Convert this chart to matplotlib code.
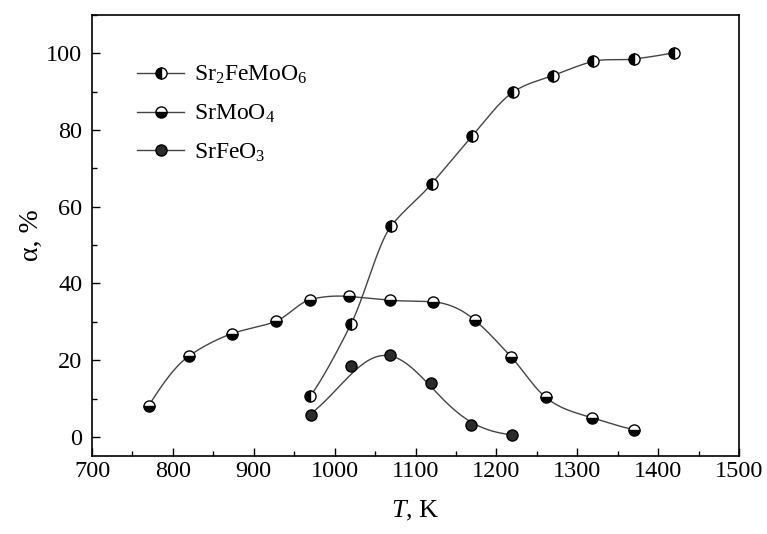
import numpy as np
import matplotlib
matplotlib.use('Agg')
import matplotlib.pyplot as plt
from matplotlib.ticker import MultipleLocator

plt.rcParams['font.family'] = ['Liberation Serif', 'DejaVu Serif']
plt.rcParams['mathtext.fontset'] = 'custom'
plt.rcParams['mathtext.rm'] = 'Liberation Serif'
plt.rcParams['mathtext.it'] = 'Liberation Serif:italic'

# data
t_sfmo = [970, 1020, 1070, 1120, 1170, 1220, 1270, 1320, 1370, 1420]
a_sfmo = [10.6, 29.3, 55.0, 66.0, 78.4, 89.8, 94.2, 97.9, 98.5, 100.2]

t_smo = [770, 820, 873, 927, 970, 1018, 1069, 1121, 1173, 1218, 1261, 1318, 1370]
a_smo = [8.1, 21.1, 26.9, 30.1, 35.8, 36.6, 35.6, 35.2, 30.5, 20.9, 10.3, 5.0, 1.9]

t_sfo = [971, 1020, 1069, 1119, 1168, 1219]
a_sfo = [5.6, 18.4, 21.3, 14.1, 3.1, 0.6]

labels = ['Sr$_2$FeMoO$_6$', 'SrMoO$_4$', 'SrFeO$_3$']


def akima(x, y, n=400):
    # Akima spline: smooth, but without the overshoot of a natural spline
    x = np.asarray(x, float)
    y = np.asarray(y, float)
    k = len(x)
    h = np.diff(x)
    d = np.diff(y) / h
    dd = np.empty(k + 3)
    dd[2:-2] = d
    dd[1] = 2 * dd[2] - dd[3]
    dd[0] = 2 * dd[1] - dd[2]
    dd[-2] = 2 * dd[-3] - dd[-4]
    dd[-1] = 2 * dd[-2] - dd[-3]
    m = np.empty(k)
    for i in range(k):
        w1 = abs(dd[i + 3] - dd[i + 2])
        w2 = abs(dd[i + 1] - dd[i])
        if w1 + w2 < 1e-12:
            m[i] = 0.5 * (dd[i + 1] + dd[i + 2])
        else:
            m[i] = (w1 * dd[i + 1] + w2 * dd[i + 2]) / (w1 + w2)
    xs = np.linspace(x[0], x[-1], n)
    idx = np.clip(np.searchsorted(x, xs) - 1, 0, k - 2)
    t = (xs - x[idx]) / h[idx]
    h00 = 2 * t**3 - 3 * t**2 + 1
    h10 = t**3 - 2 * t**2 + t
    h01 = -2 * t**3 + 3 * t**2
    h11 = t**3 - t**2
    ys = h00 * y[idx] + h10 * h[idx] * m[idx] + h01 * y[idx + 1] + h11 * h[idx] * m[idx + 1]
    return xs, ys


def gauss_fit(x, y, n=300):
    # gaussian through a quadratic fit of log(alpha)
    x = np.asarray(x, float)
    y = np.asarray(y, float)
    p = np.polyfit(x - 1100, np.log(y), 2)
    xs = np.linspace(x[0], x[-1], n)
    return xs, np.exp(np.polyval(p, xs - 1100))


fig = plt.figure(figsize=(7.67, 5.34), dpi=100)
ax = fig.add_axes([0.12, 0.146, 0.8435, 0.826])

line_kw = dict(color='#444444', linewidth=1.0, zorder=1)
mk_kw = dict(linestyle='none', marker='o', markersize=8, markeredgecolor='black',
             markeredgewidth=1.0, zorder=3)

xs, ys = akima(t_sfmo, a_sfmo)
ax.plot(xs, ys, **line_kw)
ax.plot(t_sfmo, a_sfmo, fillstyle='left', markerfacecolor='black',
        markerfacecoloralt='white', **mk_kw)

xs, ys = akima(t_smo, a_smo)
ax.plot(xs, ys, **line_kw)
ax.plot(t_smo, a_smo, fillstyle='bottom', markerfacecolor='black',
        markerfacecoloralt='white', **mk_kw)

xs, ys = gauss_fit(t_sfo, a_sfo)
ax.plot(xs, ys, **line_kw)
ax.plot(t_sfo, a_sfo, markerfacecolor='#2b2b2b', **mk_kw)

# legend handles: line - marker - line
h1, = ax.plot([], [], color='#444444', lw=1.0, marker='o', ms=8, mec='black',
              fillstyle='left', mfc='black', markerfacecoloralt='white')
h2, = ax.plot([], [], color='#444444', lw=1.0, marker='o', ms=8, mec='black',
              fillstyle='bottom', mfc='black', markerfacecoloralt='white')
h3, = ax.plot([], [], color='#444444', lw=1.0, marker='o', ms=8, mec='black',
              mfc='#2b2b2b')
ax.legend([h1, h2, h3], labels, loc='upper left', bbox_to_anchor=(0.055, 0.91),
          frameon=False, fontsize=17, handlelength=2.0, handletextpad=0.4,
          labelspacing=0.7, borderaxespad=0)

ax.set_xlim(700, 1500)
ax.set_ylim(-5, 110)
ax.xaxis.set_major_locator(MultipleLocator(100))
ax.xaxis.set_minor_locator(MultipleLocator(50))
ax.yaxis.set_major_locator(MultipleLocator(20))
ax.yaxis.set_minor_locator(MultipleLocator(10))
ax.tick_params(which='both', direction='in', labelsize=17.5, top=False, right=False, width=1.0)
ax.tick_params(which='major', length=6)
ax.tick_params(which='minor', length=3.5)
ax.tick_params(axis='y', pad=7)
for s in ax.spines.values():
    s.set_linewidth(1.2)

ax.set_xlabel('$T$, K', fontsize=19, labelpad=12)
ax.set_ylabel('α, %', fontsize=20, labelpad=2)

fig.savefig('out.png', dpi=100)
